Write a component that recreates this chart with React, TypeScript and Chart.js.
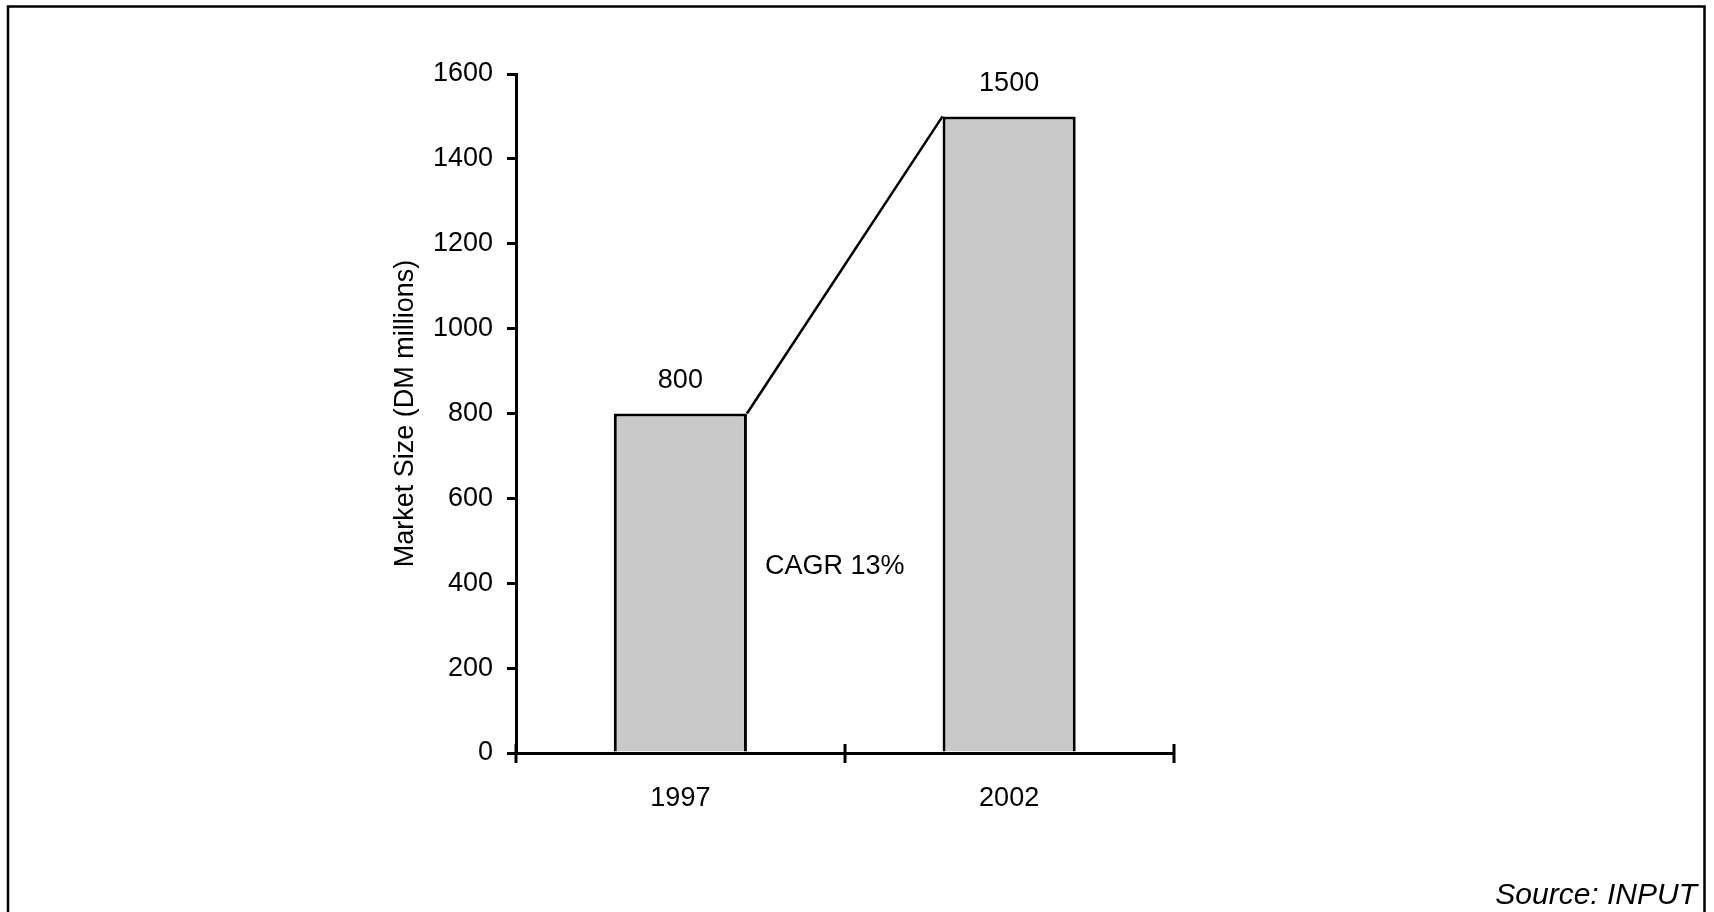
import React, { useEffect, useRef } from "react";
import { Chart, registerables } from "chart.js";

Chart.register(...registerables);

// ---- data ----
const categories: string[] = ["1997", "2002"];
const marketSize: number[] = [800, 1500];
const yTickValues: number[] = [0, 200, 400, 600, 800, 1000, 1200, 1400, 1600];
const yAxisTitle = "Market Size (DM millions)";
const cagrLabel = "CAGR 13%";
const cagrLabelAt = 440; // value on y scale where the CAGR note sits
const sourceNote = "Source: INPUT";

const FONT = "'Liberation Sans', Arial, sans-serif";
const W = 1714;
const H = 912;

const overlayPlugin = {
  id: "overlay",
  beforeDraw(chart: any) {
    const { ctx } = chart;
    ctx.save();
    ctx.fillStyle = "#ffffff";
    ctx.fillRect(0, 0, W, H);
    // frame
    ctx.strokeStyle = "#000";
    ctx.lineWidth = 2.5;
    ctx.beginPath();
    ctx.moveTo(8, H);
    ctx.lineTo(8, 6.5);
    ctx.lineTo(1704.5, 6.5);
    ctx.lineTo(1704.5, H);
    ctx.stroke();
    ctx.restore();
  },
  afterDatasetsDraw(chart: any) {
    const { ctx } = chart;
    const meta = chart.getDatasetMeta(0);
    const bars = meta.data;
    const yScale = chart.scales.y;
    ctx.save();
    // connecting growth line
    if (bars.length >= 2) {
      const b0 = bars[0].getProps(["x", "y", "width"], true);
      const b1 = bars[1].getProps(["x", "y", "width"], true);
      ctx.strokeStyle = "#000";
      ctx.lineWidth = 2.5;
      ctx.beginPath();
      ctx.moveTo(b0.x + b0.width / 2, b0.y);
      ctx.lineTo(b1.x - b1.width / 2, b1.y);
      ctx.stroke();
      // CAGR note
      ctx.fillStyle = "#000";
      ctx.font = `27px ${FONT}`;
      ctx.textAlign = "left";
      ctx.textBaseline = "middle";
      ctx.fillText(cagrLabel, b0.x + b0.width / 2 + 18, yScale.getPixelForValue(cagrLabelAt));
    }
    // value labels
    ctx.fillStyle = "#000";
    ctx.font = `27px ${FONT}`;
    ctx.textAlign = "center";
    ctx.textBaseline = "middle";
    bars.forEach((bar: any, i: number) => {
      const p = bar.getProps(["x", "y"], true);
      ctx.fillText(String(marketSize[i]), p.x, p.y - 33);
    });
    ctx.restore();
  },
  afterDraw(chart: any) {
    const { ctx } = chart;
    const xScale = chart.scales.x;
    const bottom = chart.chartArea.bottom;
    ctx.save();
    // x-axis tick marks crossing the axis at category boundaries
    const n = categories.length;
    const xs: number[] = [xScale.left];
    for (let i = 0; i < n - 1; i++) {
      xs.push((xScale.getPixelForValue(i) + xScale.getPixelForValue(i + 1)) / 2);
    }
    xs.push(xScale.right);
    ctx.strokeStyle = "#000";
    ctx.lineWidth = 3;
    xs.forEach((x) => {
      ctx.beginPath();
      ctx.moveTo(Math.round(x), bottom - 9);
      ctx.lineTo(Math.round(x), bottom + 10);
      ctx.stroke();
    });
    // source note
    ctx.fillStyle = "#000";
    ctx.font = `italic 30px ${FONT}`;
    ctx.textAlign = "right";
    ctx.textBaseline = "middle";
    ctx.fillText(sourceNote, 1697, 896);
    ctx.restore();
  },
};

export default function App() {
  const canvasRef = useRef<HTMLCanvasElement | null>(null);

  useEffect(() => {
    const prevMargin = document.body.style.margin;
    document.body.style.margin = "0";
    const canvas = canvasRef.current;
    if (!canvas) return;
    const PAD_LEFT = 385;
    const AXIS_X = 516;
    const chart = new Chart(canvas, {
      type: "bar",
      data: {
        labels: categories,
        datasets: [
          {
            label: "Market Size",
            data: marketSize,
            backgroundColor: "#c9c9c9",
            borderColor: "#000000",
            borderWidth: 3,
            categoryPercentage: 1,
            barPercentage: 0.405,
          },
        ],
      },
      options: {
        responsive: false,
        animation: false,
        devicePixelRatio: 1,
        layout: {
          padding: { left: PAD_LEFT, top: 74, right: W - 1173.5, bottom: 0 },
        },
        plugins: {
          legend: { display: false },
          tooltip: { enabled: false },
        },
        scales: {
          x: {
            type: "category",
            offset: true,
            grid: { display: true, drawOnChartArea: false, drawTicks: false, color: "#000" },
            border: { display: true, color: "#000", width: 3 },
            ticks: {
              color: "#000",
              padding: 29,
              font: { family: FONT, size: 27 },
              maxRotation: 0,
            },
            afterFit: (scale: any) => {
              scale.height = H - 753;
            },
          },
          y: {
            type: "linear",
            min: 0,
            max: 1600,
            grid: {
              display: true,
              drawOnChartArea: false,
              drawTicks: true,
              tickLength: 9,
              color: "#000",
              lineWidth: 3,
            },
            border: { display: true, color: "#000", width: 3 },
            ticks: {
              color: "#000",
              padding: 14,
              font: { family: FONT, size: 27 },
              callback: (v: any) => String(v),
            },
            afterBuildTicks: (scale: any) => {
              scale.ticks = yTickValues.map((v) => ({ value: v }));
            },
            afterFit: (scale: any) => {
              scale.width = AXIS_X - PAD_LEFT;
            },
            title: {
              display: true,
              text: yAxisTitle,
              color: "#000",
              font: { family: FONT, size: 27 },
              padding: { top: 4, bottom: 4 },
            },
          },
        },
      },
      plugins: [overlayPlugin],
    });
    return () => {
      chart.destroy();
      document.body.style.margin = prevMargin;
    };
  }, []);

  return (
    <div style={{ width: W, height: H, position: "relative" }}>
      <canvas
        ref={canvasRef}
        width={W}
        height={H}
        style={{ display: "block", width: W, height: H }}
      />
    </div>
  );
}
